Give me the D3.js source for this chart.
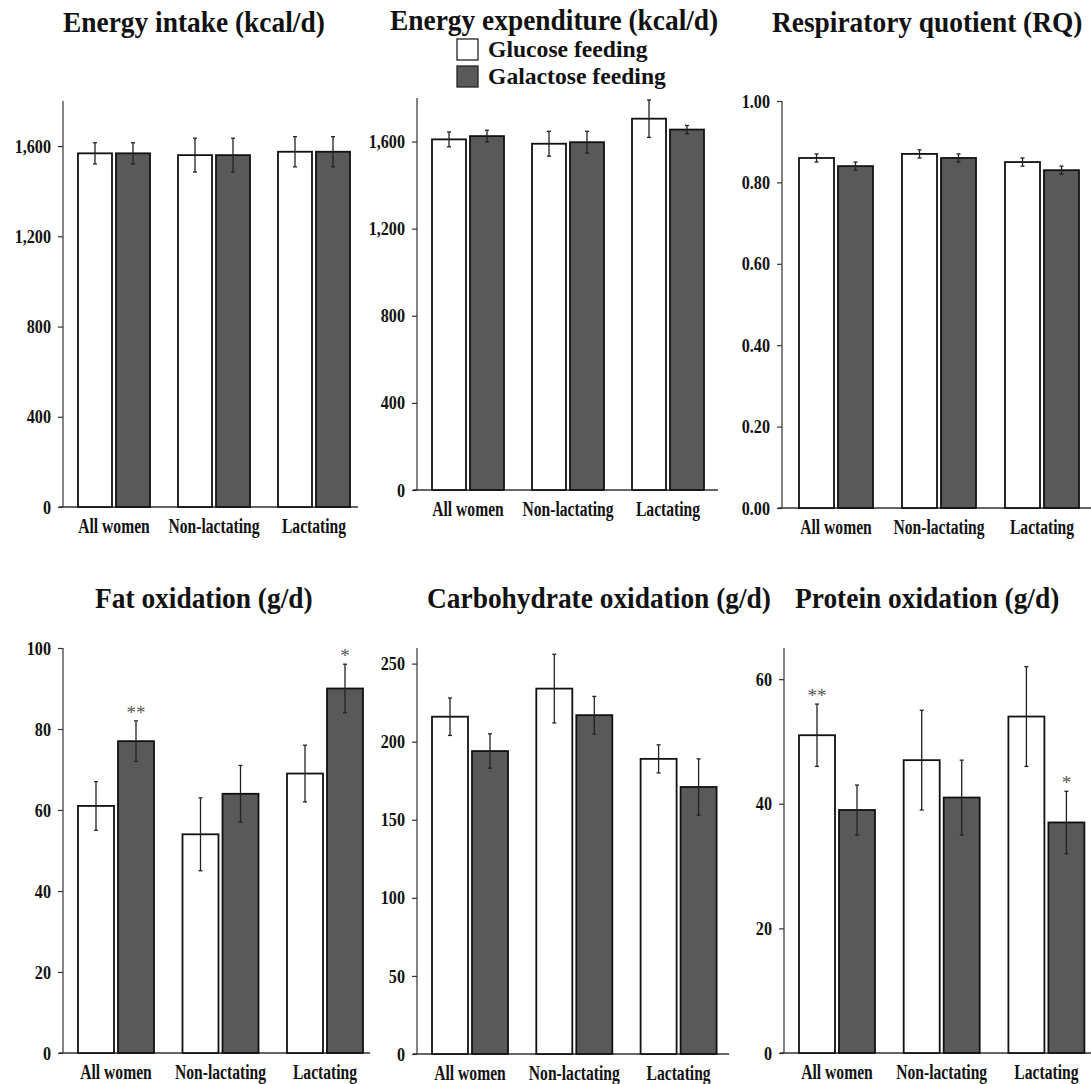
<!DOCTYPE html>
<html>
<head>
<meta charset="utf-8">
<script src="https://cdn.jsdelivr.net/npm/d3@7"></script>
<style>
  body { margin: 0; background: #fff; }
  svg text { font-family: "Liberation Serif", "Times New Roman", serif; font-weight: bold; fill: #111; }
  .axis path, .axis line { stroke: #333; stroke-width: 1.2; }
</style>
</head>
<body>
<div id="chart"></div>
<script>
// data
var categories = ["All women", "Non-lactating", "Lactating"];
var series = ["Glucose feeding", "Galactose feeding"];

var titles = ["Energy intake (kcal/d)", "Energy expenditure (kcal/d)", "Respiratory quotient (RQ)",
              "Fat oxidation (g/d)", "Carbohydrate oxidation (g/d)", "Protein oxidation (g/d)"];
var yMax = [1800, 1800, 1.00, 100, 260, 65];
var yTicks = [[0, 400, 800, 1200, 1600], [0, 400, 800, 1200, 1600], [0, 0.2, 0.4, 0.6, 0.8, 1.0],
              [0, 20, 40, 60, 80, 100], [0, 50, 100, 150, 200, 250], [0, 20, 40, 60]];
var tickFormats = [",", ",", ".2f", "d", "d", "d"];

var glucose   = [[1568, 1560, 1575], [1610, 1590, 1705], [0.86, 0.87, 0.85],
                 [61, 54, 69], [216, 234, 189], [51, 47, 54]];
var glucoseErr = [[47, 75, 67], [34, 57, 86], [0.01, 0.01, 0.01],
                  [6, 9, 7], [12, 22, 9], [5, 8, 8]];
var galactose = [[1568, 1560, 1575], [1625, 1597, 1655], [0.84, 0.86, 0.83],
                 [77, 64, 90], [194, 217, 171], [39, 41, 37]];
var galactoseErr = [[47, 75, 67], [27, 50, 19], [0.01, 0.01, 0.01],
                    [5, 7, 6], [11, 12, 18], [4, 6, 5]];
// significance marks: [series index, category index, label]
var stars = [[], [], [], [[1, 0, "**"], [1, 2, "*"]], [], [[0, 0, "**"], [1, 2, "*"]]];

// panel layout (pixels)
var layout = [
  {ax: 63,  top: 101, zero: 507,  xEnd: 358,  bar1: 78,  step: 100,   w: 34, tx: 63,  ty: 32},
  {ax: 417, top: 98,  zero: 490,  xEnd: 718,  bar1: 432, step: 100,   w: 34, tx: 390, ty: 30},
  {ax: 782, top: 101, zero: 508,  xEnd: 1091, bar1: 799, step: 103,   w: 35, tx: 772, ty: 32},
  {ax: 63,  top: 648, zero: 1053, xEnd: 370,  bar1: 78,  step: 104.5, w: 36, tx: 95,  ty: 608},
  {ax: 417, top: 648, zero: 1054, xEnd: 729,  bar1: 432, step: 104.3, w: 36, tx: 427, ty: 608},
  {ax: 784, top: 648, zero: 1053, xEnd: 1091, bar1: 799, step: 104.7, w: 36, tx: 795, ty: 608}
];
var gap = 4;
var colors = ["#ffffff", "#595959"];

var svg = d3.select("#chart").append("svg")
    .attr("width", 1091)
    .attr("height", 1084);

layout.forEach(function(L, i) {
    var g = svg.append("g");
    var bw = 2 * L.w + gap;

    var y = d3.scaleLinear().domain([0, yMax[i]]).range([L.zero, L.top]);
    var x0 = d3.scaleBand().domain(categories)
        .range([L.bar1, L.bar1 + 2 * L.step + bw])
        .paddingInner(1 - bw / L.step).paddingOuter(0);
    var x1 = d3.scaleBand().domain(series)
        .range([0, bw]).paddingInner(gap / (L.w + gap)).paddingOuter(0);

    // title
    g.append("text")
        .attr("transform", "translate(" + L.tx + "," + L.ty + ") scale(0.945,1)")
        .style("font-size", "29px")
        .text(titles[i]);

    // y axis
    var yAxis = d3.axisLeft(y).tickValues(yTicks[i]).tickSize(5)
        .tickFormat(d3.format(tickFormats[i]));
    var yG = g.append("g").attr("class", "axis")
        .attr("transform", "translate(" + L.ax + ",0)")
        .call(yAxis);
    yG.select(".domain").attr("d", "M0," + L.zero + "V" + L.top);
    yG.selectAll("text")
        .attr("x", -12 / 0.85)
        .attr("transform", "scale(0.85,1)")
        .style("font-size", "19px")
        .style("fill", "#111");

    // x axis baseline
    g.append("line")
        .attr("x1", L.ax - 4).attr("x2", L.xEnd)
        .attr("y1", L.zero).attr("y2", L.zero)
        .attr("stroke", "#333").attr("stroke-width", 1.3);

    // category labels
    g.selectAll(".cat").data(categories).enter().append("text")
        .attr("transform", function(d) {
            return "translate(" + (x0(d) + bw / 2) + "," + (L.zero + 26) + ") scale(0.78,1)";
        })
        .attr("text-anchor", "middle")
        .style("font-size", "20px")
        .text(function(d) { return d; });

    // bars
    var rows = [];
    categories.forEach(function(c, ci) {
        rows.push({cat: c, s: 0, v: glucose[i][ci], e: glucoseErr[i][ci]});
        rows.push({cat: c, s: 1, v: galactose[i][ci], e: galactoseErr[i][ci]});
    });

    g.selectAll(".bar").data(rows).enter().append("rect")
        .attr("x", function(d) { return x0(d.cat) + x1(series[d.s]); })
        .attr("y", function(d) { return y(d.v); })
        .attr("width", x1.bandwidth())
        .attr("height", function(d) { return L.zero - y(d.v); })
        .attr("fill", function(d) { return colors[d.s]; })
        .attr("stroke", "#111")
        .attr("stroke-width", 1.8);

    // error bars
    var eb = g.selectAll(".err").data(rows).enter().append("g")
        .attr("transform", function(d) {
            return "translate(" + (x0(d.cat) + x1(series[d.s]) + x1.bandwidth() / 2) + ",0)";
        });
    eb.append("line")
        .attr("y1", function(d) { return y(d.v + d.e); })
        .attr("y2", function(d) { return y(d.v - d.e); })
        .attr("stroke", "#222").attr("stroke-width", 1.3);
    [1, -1].forEach(function(sgn) {
        eb.append("line")
            .attr("x1", -2).attr("x2", 2)
            .attr("y1", function(d) { return y(d.v + sgn * d.e); })
            .attr("y2", function(d) { return y(d.v + sgn * d.e); })
            .attr("stroke", "#222").attr("stroke-width", 1.3);
    });

    // significance stars
    stars[i].forEach(function(st) {
        var vals = st[0] === 0 ? glucose[i] : galactose[i];
        var errs = st[0] === 0 ? glucoseErr[i] : galactoseErr[i];
        var cat = categories[st[1]];
        g.append("text")
            .attr("x", x0(cat) + x1(series[st[0]]) + x1.bandwidth() / 2)
            .attr("y", y(vals[st[1]] + errs[st[1]]) - 2)
            .attr("text-anchor", "middle")
            .style("font-size", "19px")
            .style("font-weight", "normal")
            .style("fill", "#555")
            .text(st[2]);
    });
});

// legend
var legend = svg.append("g");
series.forEach(function(s, i) {
    legend.append("rect")
        .attr("x", 457).attr("y", 39 + i * 27)
        .attr("width", 21).attr("height", 21)
        .attr("fill", colors[i])
        .attr("stroke", "#222").attr("stroke-width", 1.3);
    legend.append("text")
        .attr("transform", "translate(488," + (57 + i * 27) + ") scale(0.985,1)")
        .style("font-size", "24px")
        .text(s);
});
</script>
</body>
</html>
